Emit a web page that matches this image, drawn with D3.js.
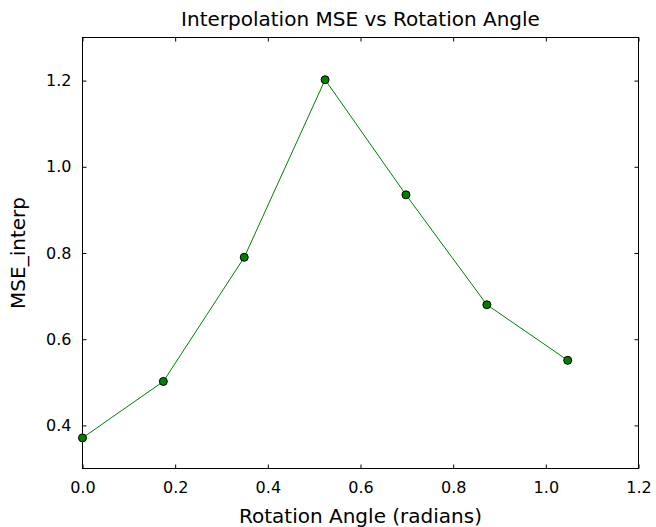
<!DOCTYPE html>
<html><head><meta charset="utf-8">
<script src="https://cdn.jsdelivr.net/npm/d3@7"></script>
<style>body{margin:0;background:#fff}svg{display:block}text{font-family:"DejaVu Sans",sans-serif;fill:#000}</style>
</head><body><svg id="c" width="656" height="527"></svg>
<script>
const angles = [0, 0.1745, 0.3491, 0.5236, 0.6981, 0.8727, 1.0472];
const mse = [0.371, 0.502, 0.790, 1.202, 0.935, 0.680, 0.551];
const xTicks = [0.0, 0.2, 0.4, 0.6, 0.8, 1.0, 1.2];
const yTicks = [0.4, 0.6, 0.8, 1.0, 1.2];
const title = "Interpolation MSE vs Rotation Angle";
const xLabel = "Rotation Angle (radians)";
const yLabel = "MSE_interp";

const svg = d3.select("#c");
const L = 82.5, R = 638.5, T = 37.5, B = 468.5;
const x = d3.scaleLinear().domain([0, 1.2]).range([L, R]);
const y = d3.scaleLinear().domain([0.3, 1.3]).range([B, T]);
const fmt = d3.format(".1f");

svg.append("rect").attr("x", L).attr("y", T).attr("width", R - L).attr("height", B - T)
  .attr("fill", "none").attr("stroke", "#000").attr("stroke-width", 1);

const tl = 4;
const gx = svg.append("g").attr("transform", `translate(0,${B})`)
  .call(d3.axisBottom(x).tickValues(xTicks).tickFormat(fmt).tickSize(-tl).tickPadding(13));
const gxt = svg.append("g").attr("transform", `translate(0,${T})`)
  .call(d3.axisTop(x).tickValues(xTicks).tickFormat("").tickSize(-tl));
const gy = svg.append("g").attr("transform", `translate(${L},0)`)
  .call(d3.axisLeft(y).tickValues(yTicks).tickFormat(fmt).tickSize(-tl).tickPadding(11));
const gyr = svg.append("g").attr("transform", `translate(${R},0)`)
  .call(d3.axisRight(y).tickValues(yTicks).tickFormat("").tickSize(-tl));
[gx, gxt, gy, gyr].forEach(g => {
  g.select(".domain").remove();
  g.selectAll("line").attr("stroke", "#000");
  g.selectAll("text").attr("font-size", 16).attr("font-family", "DejaVu Sans").attr("fill", "#000");
});

const line = d3.line().x((d, i) => x(angles[i])).y(d => y(d));
svg.append("path").datum(mse).attr("d", line).attr("fill", "none")
  .attr("stroke", "#008000").attr("stroke-width", 1);
svg.selectAll("circle.p").data(mse).join("circle").attr("class", "p")
  .attr("cx", (d, i) => x(angles[i])).attr("cy", d => y(d)).attr("r", 4)
  .attr("fill", "#008000").attr("stroke", "#000").attr("stroke-width", 1);

svg.append("text").attr("x", (L + R) / 2).attr("y", 26).attr("text-anchor", "middle")
  .attr("font-size", 20).text(title);
svg.append("text").attr("x", (L + R) / 2).attr("y", 523).attr("text-anchor", "middle")
  .attr("font-size", 20).text(xLabel);
svg.append("text").attr("transform", `translate(25,${(T + B) / 2}) rotate(-90)`)
  .attr("text-anchor", "middle").attr("font-size", 20).text(yLabel);
</script></body></html>
